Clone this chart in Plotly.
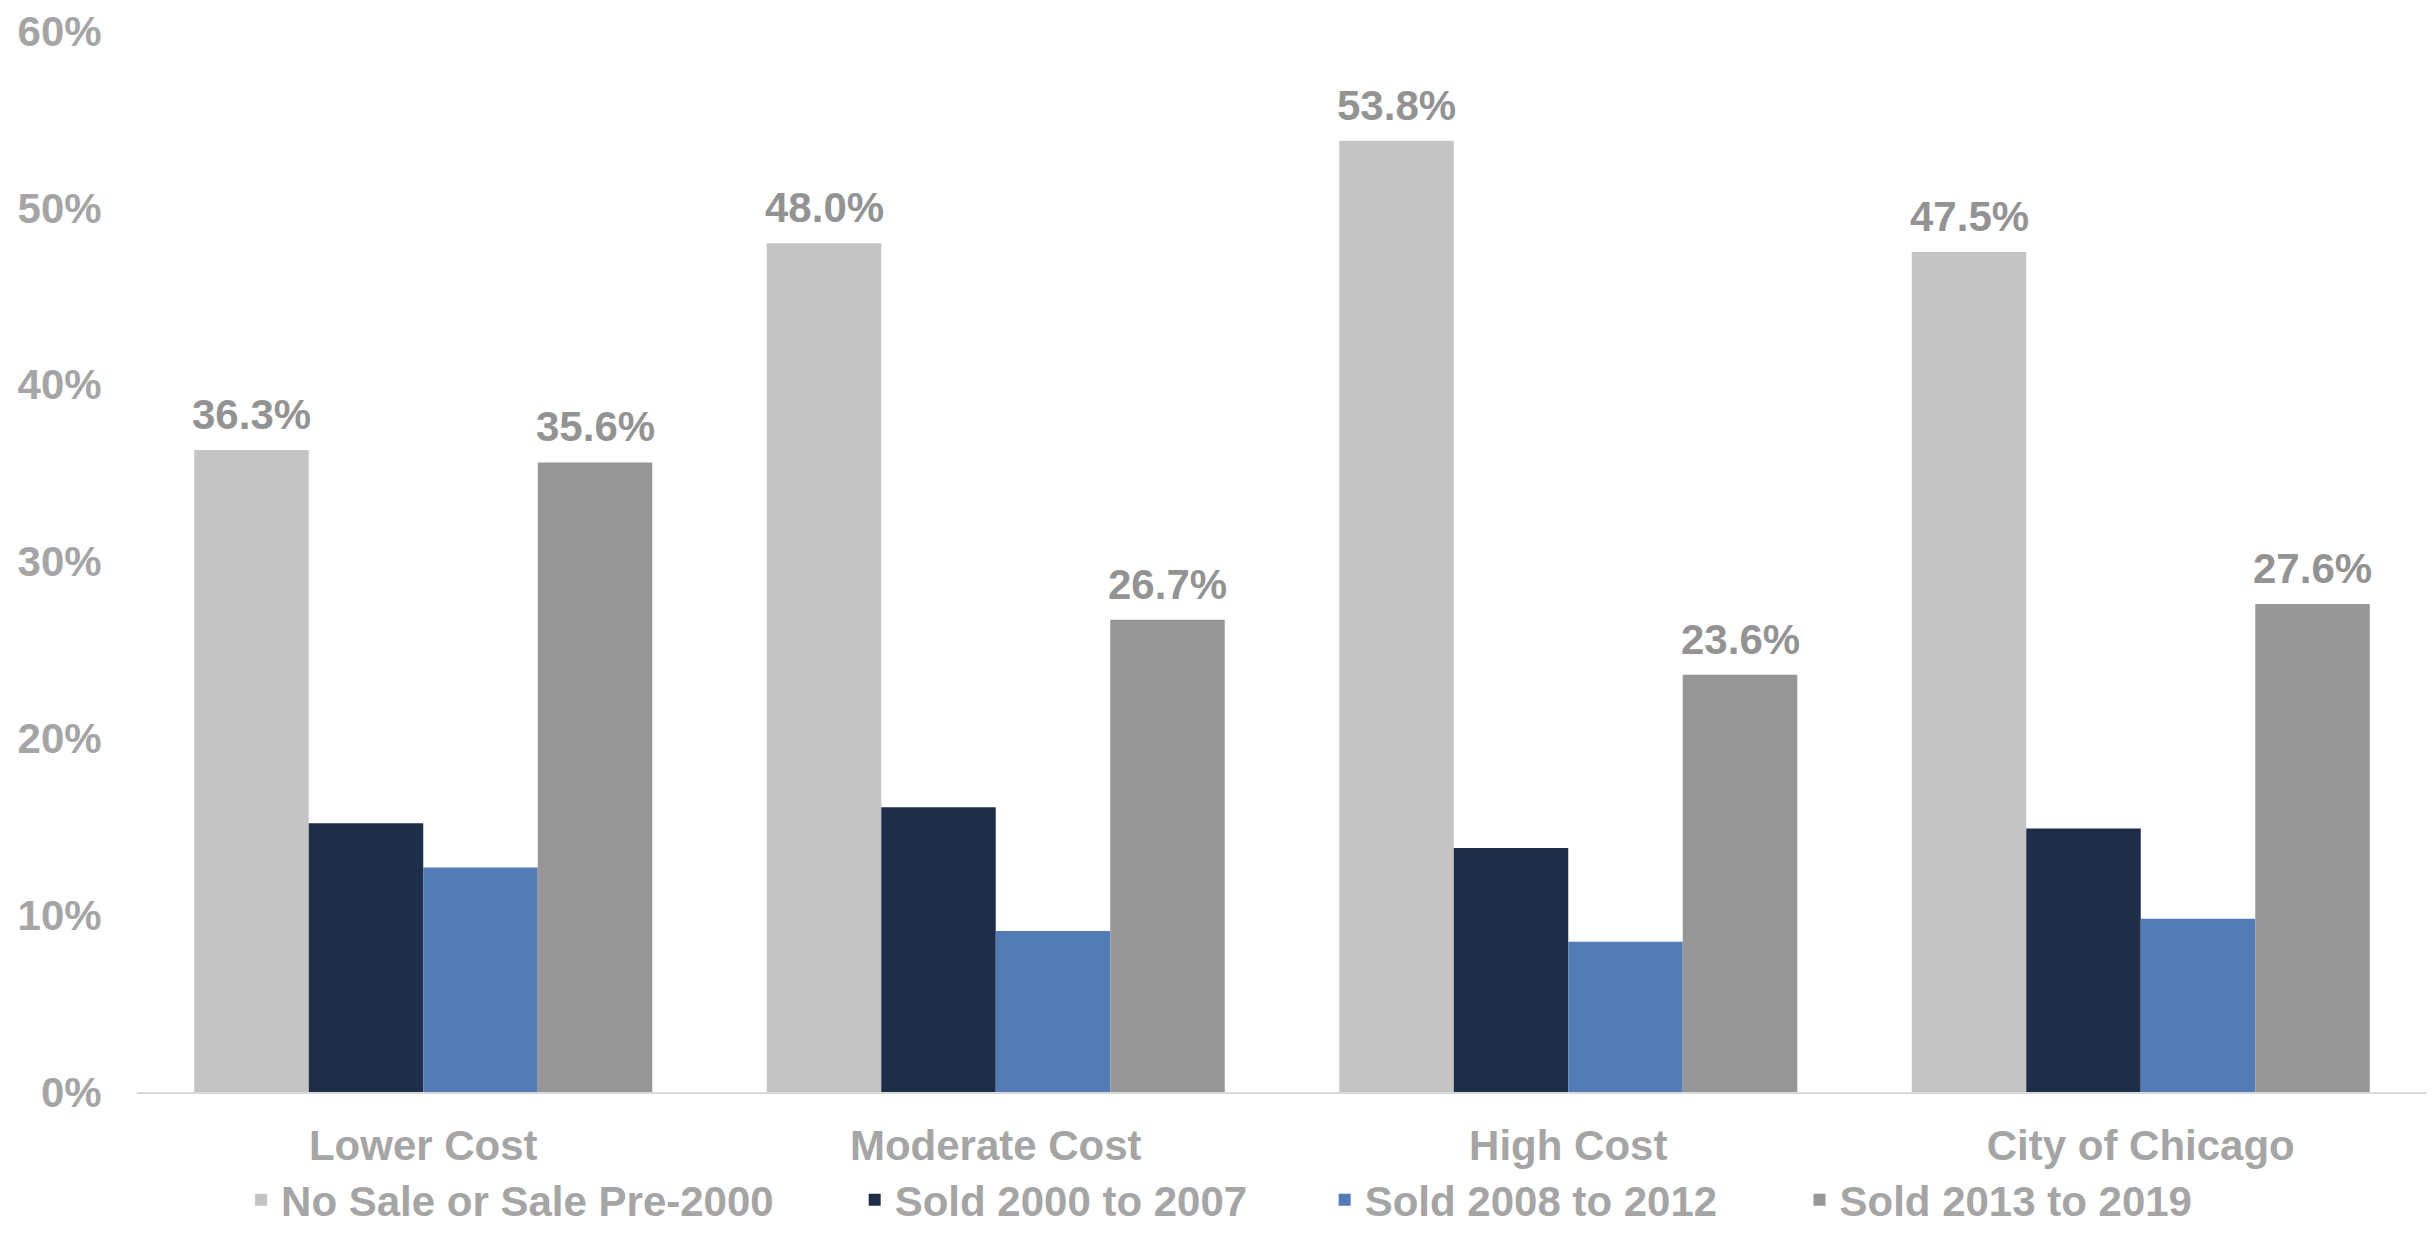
import plotly.graph_objects as go

categories = ["Lower Cost", "Moderate Cost", "High Cost", "City of Chicago"]
series_names = ["No Sale or Sale Pre-2000", "Sold 2000 to 2007", "Sold 2008 to 2012", "Sold 2013 to 2019"]
no_sale_pre_2000 = [36.3, 48.0, 53.8, 47.5]
sold_2000_2007 = [15.2, 16.1, 13.8, 14.9]
sold_2008_2012 = [12.7, 9.1, 8.5, 9.8]
sold_2013_2019 = [35.6, 26.7, 23.6, 27.6]
series_values = [no_sale_pre_2000, sold_2000_2007, sold_2008_2012, sold_2013_2019]
colors = ["#C4C4C4", "#1F2E48", "#537BB6", "#979797"]
labeled_series = [0, 3]
y_ticks = [0, 10, 20, 30, 40, 50, 60]
y_tick_labels = ["0%", "10%", "20%", "30%", "40%", "50%", "60%"]

FONT = "Liberation Sans, Arial, sans-serif"
AXIS_GREY = "#A5A5A5"
LABEL_GREY = "#939393"
BARGAP = 0.2

# one legend box per series, spread along the bottom (container coordinates)
legend_x = [0.099, 0.351, 0.544, 0.739]
legend_ids = ["legend", "legend2", "legend3", "legend4"]

fig = go.Figure()
for name, vals, col, lid in zip(series_names, series_values, colors, legend_ids):
    fig.add_trace(go.Bar(x=categories, y=vals, name=name, legend=lid, showlegend=True,
                         marker=dict(color=col, line=dict(width=0))))

# value labels above the first and last series in each group
n = len(series_values)
bar_w = (1 - BARGAP) / n
annotations = []
for s in labeled_series:
    offset = -(1 - BARGAP) / 2 + bar_w * (s + 0.5)
    for i, v in enumerate(series_values[s]):
        annotations.append(dict(
            x=i + offset, y=v, xref="x", yref="y", text=f"{v:.1f}%",
            showarrow=False, yanchor="bottom", yshift=10,
            font=dict(family=FONT, size=42, color=LABEL_GREY, weight="bold"),
        ))

legend_style = dict(
    orientation="h", xanchor="left", xref="container", yref="container",
    y=-0.006, yanchor="bottom",
    font=dict(family=FONT, size=42, color=AXIS_GREY, weight="bold"),
    itemwidth=30, bgcolor="rgba(0,0,0,0)",
)
legends = {lid: dict(legend_style, x=lx) for lid, lx in zip(legend_ids, legend_x)}

fig.update_layout(
    width=2435, height=1234, showlegend=True,
    margin=dict(l=137, r=8, t=31, b=142, autoexpand=False),
    paper_bgcolor="white", plot_bgcolor="white",
    barmode="group", bargap=BARGAP, bargroupgap=0,
    font=dict(family=FONT, size=42, color=AXIS_GREY, weight="bold"),
    annotations=annotations,
    xaxis=dict(
        showline=True, linecolor="#D9D9D9", linewidth=2, automargin=False,
        ticks="outside", ticklen=16, tickcolor="rgba(0,0,0,0)",
        tickfont=dict(family=FONT, size=42, color=AXIS_GREY, weight="bold"),
        showgrid=False,
    ),
    yaxis=dict(
        range=[0, 60], tickvals=y_ticks, ticktext=y_tick_labels, automargin=False,
        showgrid=False, zeroline=False, showline=False,
        ticks="outside", ticklen=26, tickcolor="rgba(0,0,0,0)",
        tickfont=dict(family=FONT, size=42, color=AXIS_GREY, weight="bold"),
    ),
    **legends,
)

fig.write_html("out.html")
